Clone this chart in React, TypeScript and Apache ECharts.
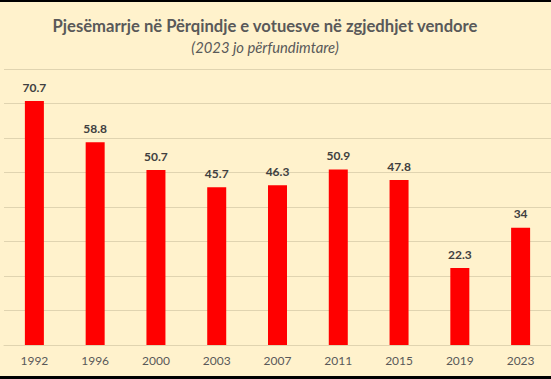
import React, { useEffect, useRef } from "react";
import * as echarts from "echarts";

const categories = ["1992", "1996", "2000", "2003", "2007", "2011", "2015", "2019", "2023"];
const turnout = [70.7, 58.8, 50.7, 45.7, 46.3, 50.9, 47.8, 22.3, 34];
const titleText = "Pjesëmarrje në Përqindje e votuesve në zgjedhjet vendore";
const subtitleText = "(2023 jo përfundimtare)";

export default function App() {
  const ref = useRef<HTMLDivElement>(null);
  useEffect(() => {
    const chart = echarts.init(ref.current!, null, { renderer: "svg" });
    chart.setOption({
      animation: false,
      backgroundColor: "#FFF2CC",
      textStyle: { fontFamily: "Lato" },
      title: {
        text: titleText,
        subtext: subtitleText,
        left: 260,
        textAlign: "center",
        top: 12,
        itemGap: 5,
        textStyle: { fontFamily: "Lato", fontSize: 16.6, fontWeight: "bold", color: "#595959" },
        subtextStyle: { fontFamily: "Lato", fontSize: 14.8, fontStyle: "italic", color: "#595959" },
      },
      grid: { left: 4, top: 69, width: 558, height: 276 },
      xAxis: {
        type: "category",
        data: categories,
        axisLine: { show: true, lineStyle: { color: "#E0D4B0", width: 1 } },
        axisTick: { show: false },
        axisLabel: { color: "#595959", fontSize: 12, margin: 9, fontFamily: "Lato" },
      },
      yAxis: {
        type: "value",
        min: 0,
        max: 80,
        interval: 10,
        axisLabel: { show: false },
        axisLine: { show: false },
        axisTick: { show: false },
        splitLine: { lineStyle: { color: "#E0D4B0", width: 1 } },
      },
      series: [
        {
          type: "bar",
          data: turnout,
          barWidth: 19,
          itemStyle: { color: "#FF0000" },
          label: {
            show: true,
            position: "top",
            distance: 8,
            color: "#404040",
            fontWeight: "bold",
            fontSize: 12,
            fontFamily: "Lato",
          },
        },
      ],
      graphic: [
        { type: "rect", shape: { x: 0, y: 0, width: 551, height: 2 }, style: { fill: "#000" } },
        { type: "rect", shape: { x: 0, y: 376, width: 551, height: 3 }, style: { fill: "#000" } },
      ],
    });
    return () => chart.dispose();
  }, []);
  return <div ref={ref} style={{ width: 551, height: 379, position: "fixed", left: 0, top: 0 }} />;
}
